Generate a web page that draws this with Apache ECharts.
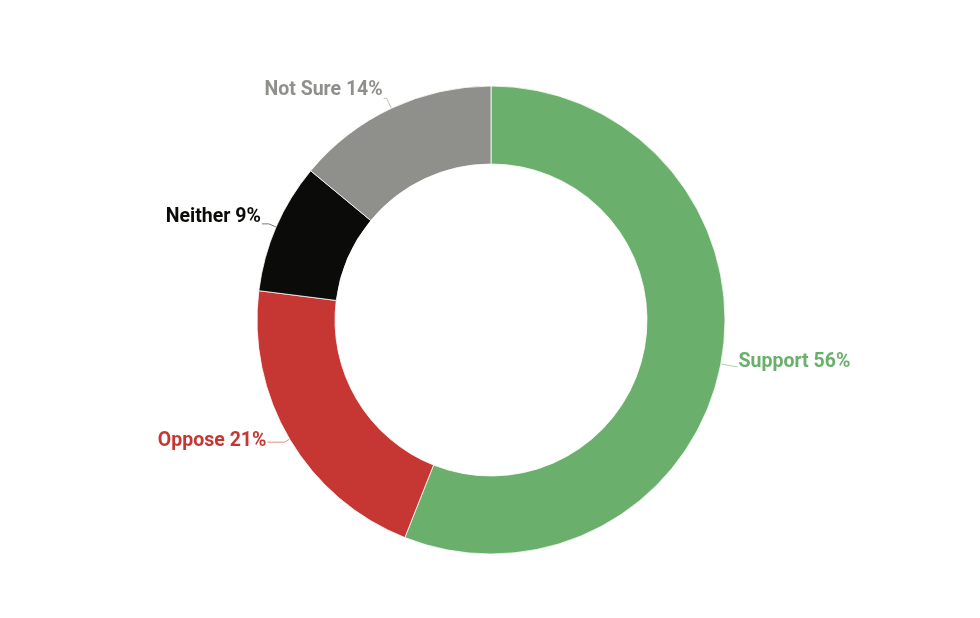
<!DOCTYPE html>
<html><head><meta charset="utf-8">
<script src="https://cdn.jsdelivr.net/npm/echarts@6/dist/echarts.min.js"></script>
<style>html,body{margin:0;padding:0;background:#fff}#c{width:980px;height:618px}</style>
</head><body><div id="c"></div>
<script>
const categories = ["Support", "Oppose", "Neither", "Not Sure"];
const values = [56, 21, 9, 14];
const colors = ["#6aaf6b", "#c63632", "#0b0b09", "#8f8f8b"];
// label placement tweaks (line lengths, vertical lift)
const lineLen = [15, 6, 8, 11];
const lineLen2 = [2, 17, 7, 3];
const lift = [5, 1, 7, 8];

const chart = echarts.init(document.getElementById('c'));
chart.setOption({
  animation: false,
  series: [{
    type: 'pie',
    center: [491, 320],
    radius: [156, 234],
    startAngle: 90,
    clockwise: true,
    avoidLabelOverlap: false,
    data: categories.map((c, i) => ({
      name: c, value: values[i],
      itemStyle: { color: colors[i] },
      label: { color: colors[i] },
      labelLine: { length: lineLen[i], length2: lineLen2[i], lineStyle: { color: colors[i] } }
    })),
    itemStyle: { borderColor: '#ffffff', borderWidth: 0.8 },
    label: {
      show: true,
      formatter: p => p.name + ' ' + p.value + '%',
      fontFamily: 'Roboto',
      fontWeight: 'bold',
      fontSize: 19.5,
      distanceToLabelLine: 1
    },
    labelLine: { show: true, lineStyle: { width: 0.8, opacity: 0.7 } },
    labelLayout: p => ({ dy: -lift[p.dataIndex] })
  }]
});
</script></body></html>
